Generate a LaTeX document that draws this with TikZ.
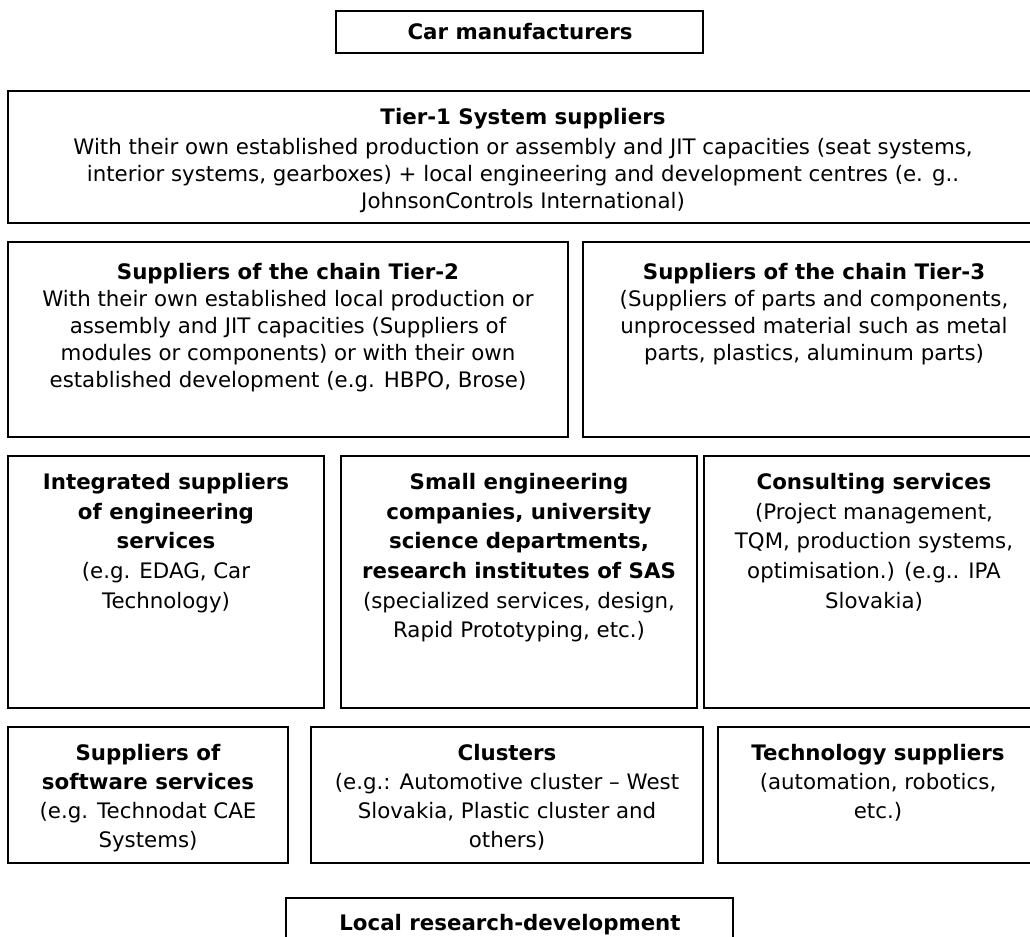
\documentclass[tikz,border=0pt]{standalone}
\usepackage{fontspec}
\setmainfont{DejaVu Sans}
\begin{document}
\begin{tikzpicture}[x=0.75pt,y=-0.75pt,
  box/.style={draw, line width=1.3pt, outer sep=0pt, inner sep=0pt, anchor=north west},
  txt/.style={align=center, inner sep=0pt, anchor=north, font=\fontsize{16}{20.25}\selectfont},
  txtb/.style={txt, font=\fontsize{16}{22.25}\selectfont},
  txtc/.style={txt, font=\fontsize{16}{21.75}\selectfont}]
\useasboundingbox (0,0) rectangle (1030,936);
\clip (0,0) rectangle (1030,936);
% boxes
\node[box, minimum width=275.25pt, minimum height=31.5pt] (bcar) at (336,11) {};
\node[box, minimum width=774pt, minimum height=99pt] (bt1) at (8,91) {};
\node[box, minimum width=420pt, minimum height=146.25pt] (bt2) at (8,242) {};
\node[box, minimum width=346pt, minimum height=146.25pt] (bt3) at (583,242) {};
\node[box, minimum width=237pt, minimum height=189pt] (bint) at (8,456) {};
\node[box, minimum width=267pt, minimum height=189pt] (bsmall) at (341,456) {};
\node[box, minimum width=255pt, minimum height=189pt] (bcons) at (704,456) {};
\node[box, minimum width=210pt, minimum height=102pt] (bsoft) at (8,727) {};
\node[box, minimum width=294pt, minimum height=102pt] (bclus) at (311,727) {};
\node[box, minimum width=240pt, minimum height=102pt] (btech) at (718,727) {};
\node[box, minimum width=335.25pt, minimum height=60pt] (bloc) at (286,898) {};
% texts
\node[txt, anchor=center] (tcar) at (520,32) {\textbf{Car manufacturers}};
\node[txt] (tt1) at (523,108) {\textbf{Tier-1 System suppliers}\\[2pt]
 With their own established production or assembly and JIT capacities (seat systems,\\
 interior systems, gearboxes) + local engineering and development centres (e. g..\\
 JohnsonControls International)};
\node[txt] (tt2) at (288,263) {\textbf{Suppliers of the chain Tier-2}\\
 With their own established local production or\\
 assembly and JIT capacities (Suppliers of\\
 modules or components) or with their own\\
 established development (e.g. HBPO, Brose)};
\node[txt] (tt3) at (814,263) {\textbf{Suppliers of the chain Tier-3}\\
 (Suppliers of parts and components,\\
 unprocessed material such as metal\\
 parts, plastics, aluminum parts)};
\node[txtb] (tint) at (166,473) {\textbf{Integrated suppliers}\\
 \textbf{of engineering}\\
 \textbf{services}\\
 (e.g. EDAG, Car\\
 Technology)};
\node[txtb] (tsmall) at (519,473) {\textbf{Small engineering}\\
 \textbf{companies, university}\\
 \textbf{science departments,}\\
 \textbf{research institutes of SAS}\\
 (specialized services, design,\\
 Rapid Prototyping, etc.)};
\node[txtb] (tcons) at (874,473) {\textbf{Consulting services}\\
 (Project management,\\
 TQM, production systems,\\
 optimisation.) (e.g.. IPA\\
 Slovakia)};
\node[txtc] (tsoft) at (148,744) {\textbf{Suppliers of}\\
 \textbf{software services}\\
 (e.g. Technodat CAE\\
 Systems)};
\node[txtc] (tclus) at (507,744) {\textbf{Clusters}\\
 (e.g.: Automotive cluster -- West\\
 Slovakia, Plastic cluster and\\
 others)};
\node[txtc] (ttech) at (878,744) {\textbf{Technology suppliers}\\
 (automation, robotics,\\
 etc.)};
\node[txt] (tloc) at (510,914) {\textbf{Local research-development}};
\end{tikzpicture}
\end{document}
